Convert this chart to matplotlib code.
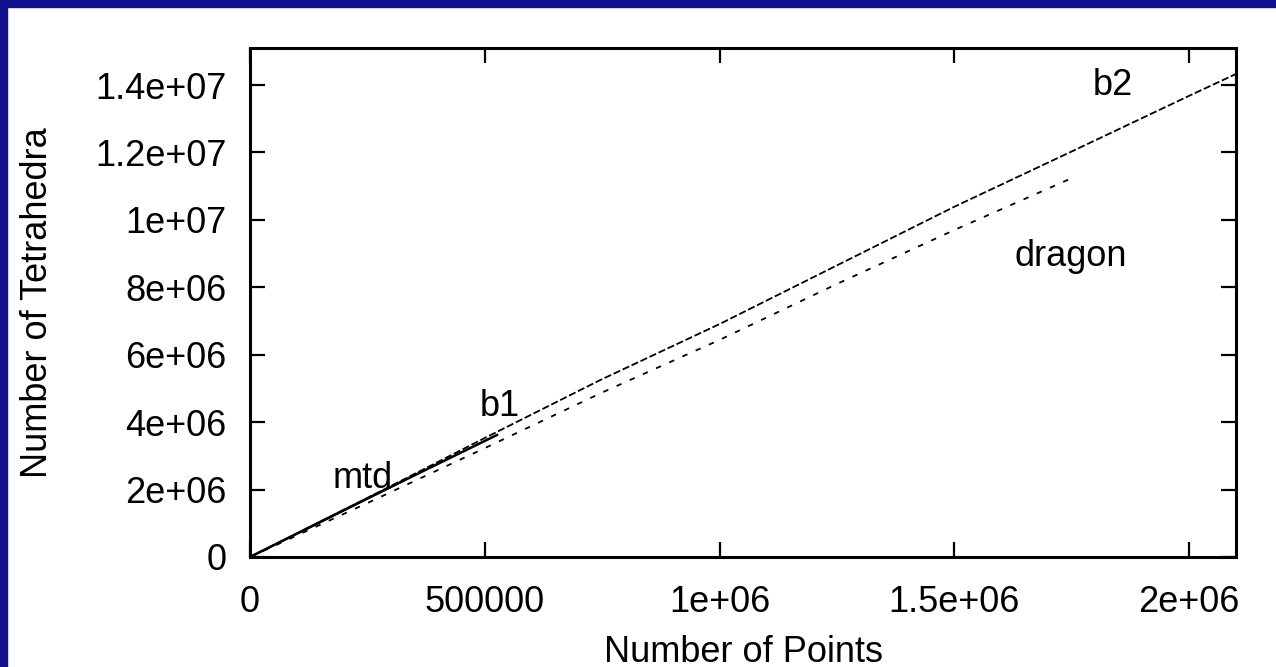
import matplotlib
matplotlib.use('Agg')
import matplotlib.pyplot as plt
from matplotlib.patches import Rectangle

plt.rcParams['font.family'] = ['Liberation Sans', 'DejaVu Sans']

# data
b2_x = [0, 250000, 500000, 746000, 1000000, 1250000, 1500000, 1750000, 2000000, 2100000]
b2_y = [0, 1.75e6, 3.53e6, 5.25e6, 6.91e6, 8.65e6, 1.039e7, 1.203e7, 1.368e7, 1.433e7]
dragon_x = [0, 250000, 500000, 750000, 1000000, 1250000, 1500000, 1760000]
dragon_y = [0, 1.6e6, 3.23e6, 4.88e6, 6.44e6, 8.1e6, 9.7e6, 1.13e7]
b1_x = [0, 250000, 526000]
b1_y = [0, 1.74e6, 3.62e6]
mtd_x = [0, 150000, 330000]
mtd_y = [0, 1.03e6, 2.28e6]

xticks = [0, 500000, 1000000, 1500000, 2000000]
xtick_labels = ['0', '500000', '1e+06', '1.5e+06', '2e+06']
yticks = [0, 2e6, 4e6, 6e6, 8e6, 1e7, 1.2e7, 1.4e7]
ytick_labels = ['0', '2e+06', '4e+06', '6e+06', '8e+06', '1e+07', '1.2e+07', '1.4e+07']

fig = plt.figure(figsize=(12.76, 6.67), dpi=100)
fig.patch.set_facecolor('white')
# blue slide border on the left and top
fig.patches.append(Rectangle((0, 0), 7 / 1276, 1, transform=fig.transFigure, color='#12108c', zorder=0))
fig.patches.append(Rectangle((0, 1 - 7 / 667), 1, 7 / 667, transform=fig.transFigure, color='#12108c', zorder=0))

ax = fig.add_axes([250 / 1276, 110 / 667, 986 / 1276, 509 / 667])

ax.plot(b2_x, b2_y, color='black', lw=1.3, dashes=(4, 1.5))
ax.plot(dragon_x, dragon_y, color='black', lw=1.3, dashes=(3, 5))
ax.plot(b1_x, b1_y, color='black', lw=1.8)
ax.plot(mtd_x, mtd_y, color='black', lw=1.3)

fs = 26
ax.text(1838000, 1.398e7, 'b2', fontsize=fs, ha='center', va='center')
ax.text(1747000, 8.9e6, 'dragon', fontsize=fs, ha='center', va='center')
ax.text(533000, 4.45e6, 'b1', fontsize=fs, ha='center', va='center')
ax.text(239000, 2.34e6, 'mtd', fontsize=fs, ha='center', va='center')

ax.set_xlim(0, 2100000)
ax.set_ylim(0, 1.51e7)
ax.set_xticks(xticks)
ax.set_xticklabels(xtick_labels)
ax.set_yticks(yticks)
ax.set_yticklabels(ytick_labels)
ax.tick_params(direction='in', top=True, right=True, length=11, width=1.6, labelsize=fs)
ax.tick_params(axis='x', pad=20)
ax.tick_params(axis='y', pad=17)
for s in ax.spines.values():
    s.set_linewidth(2.2)

ax.set_xlabel('Number of Points', fontsize=fs, va='center')
ax.set_ylabel('Number of Tetrahedra', fontsize=fs, va='center')
ax.xaxis.set_label_coords(0.5, -0.187)
ax.yaxis.set_label_coords(-0.216, 0.5)

fig.savefig('out.png', dpi=100)
